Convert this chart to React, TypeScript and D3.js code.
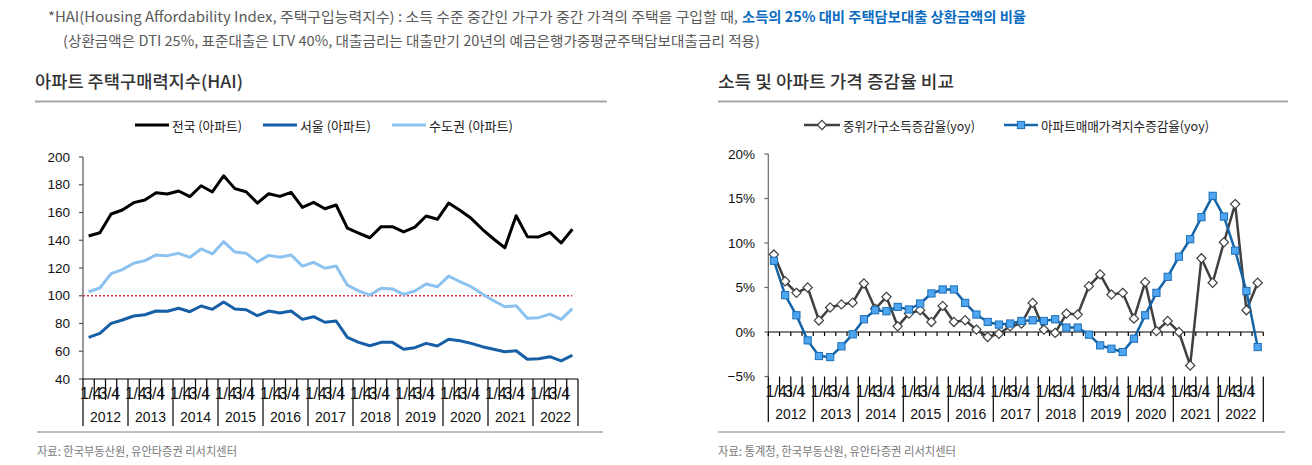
import React from "react";
import * as d3 from "d3";

// categories: quarters 2012 Q1 .. 2022 Q4
const years = [2012, 2013, 2014, 2015, 2016, 2017, 2018, 2019, 2020, 2021, 2022];
const quarterLabels = ["1/4", "", "3/4", ""];

// HAI (left chart)
const nationHai = [143.1, 145.4, 158.9, 161.8, 167.1, 169, 174.3, 173.3, 175.5, 171.4, 179.3, 174.8, 186.5, 177.2, 175, 166.8, 173.5, 171.6, 174.5, 163.7, 167.3, 162.7, 165.4, 148.8, 145.2, 141.8, 149.8, 149.8, 146, 149.5, 157.5, 155.1, 166.8, 161.6, 155.8, 147.9, 140.9, 134.6, 157.7, 142.6, 142.4, 145.7, 138, 147.9];
const seoulHai = [70, 72.9, 80.1, 82.5, 85.4, 86.3, 89, 88.8, 91, 88.5, 92.6, 90.2, 95.5, 90.5, 89.9, 85.6, 89, 87.6, 89, 83, 84.9, 80.9, 81.8, 70, 66.4, 64, 66.4, 66.4, 61.4, 62.6, 65.7, 63.8, 68.6, 67.6, 65.7, 63.3, 61.4, 59.7, 60.4, 54.2, 54.6, 56.1, 53, 57.1];
const capitalHai = [102.9, 105.6, 115.9, 118.8, 123.4, 125.3, 129.4, 128.9, 130.6, 127.7, 133.7, 130.1, 139, 131.5, 130.6, 124.3, 129.1, 127.7, 129.4, 121.4, 124.1, 119.8, 121.4, 107.6, 103.5, 100.5, 105.4, 104.9, 101, 103.4, 108.5, 106.5, 114.2, 110.1, 106.5, 101.3, 96.4, 92.1, 92.8, 83.7, 84.2, 86.8, 83, 90.7];
const haiTicks = [40, 60, 80, 100, 120, 140, 160, 180, 200];
const haiBase = 100;

// yoy growth (right chart), %
const incomeYoy = [8.7, 5.7, 4.4, 5.0, 1.3, 2.75, 3.1, 3.3, 5.45, 2.6, 3.95, 0.64, 2.07, 2.45, 1.13, 2.93, 1.13, 1.32, 0.27, -0.56, -0.2, 0.64, 0.95, 3.27, 0.27, -0.1, 2.07, 1.96, 5.15, 6.47, 4.2, 4.4, 1.5, 5.6, 0.1, 1.24, 0, -3.76, 8.28, 5.53, 10.08, 14.37, 2.45, 5.53];
const aptPriceYoy = [8.0, 4.14, 1.88, -0.94, -2.7, -2.82, -1.61, -0.26, 1.43, 2.45, 2.33, 2.82, 2.53, 3.2, 4.33, 4.78, 4.78, 3.27, 1.96, 1.13, 0.83, 0.95, 1.24, 1.32, 1.24, 1.43, 0.5, 0.5, -0.3, -1.5, -1.88, -2.25, -0.75, 1.88, 4.4, 6.2, 8.46, 10.42, 12.9, 15.3, 12.97, 9.14, 4.6, -1.69];
const yoyTicks = [-5, 0, 5, 10, 15, 20];

const quarters = years.flatMap((y) => [0, 1, 2, 3].map((q) => `${y}-${q}`));

const KR = "'Noto Sans CJK KR', 'Noto Sans', sans-serif";
const NUM = "'Liberation Sans', Arial, sans-serif";

function CategoryAxis({ x, top, tickEnd, sepEnd, qy, yy }) {
  const step = x.step();
  const [x0] = x.range();
  return (
    <g>
      {d3.range(quarters.length + 1).map((i) => {
        const xx = x0 + i * step;
        const isYear = i % 4 === 0;
        return (
          <line key={i} x1={xx} x2={xx} y1={top} y2={isYear ? sepEnd : tickEnd} stroke="#000" strokeWidth={1.2} />
        );
      })}
      {quarters.map((k, i) =>
        quarterLabels[i % 4] ? (
          <text key={k} x={x(k) + x.bandwidth() / 2 + (i % 4 === 0 ? 2 : -2)} y={qy} textAnchor="middle" fontFamily={NUM} fontSize={16} letterSpacing={-0.4} fill="#111">
            {quarterLabels[i % 4]}
          </text>
        ) : null
      )}
      {years.map((yr, i) => (
        <text key={yr} x={x0 + (i * 4 + 2) * step} y={yy} textAnchor="middle" fontFamily={NUM} fontSize={14} fill="#111">
          {yr}
        </text>
      ))}
    </g>
  );
}

function HaiChart() {
  const x = d3.scaleBand().domain(quarters).range([83, 578]).padding(0);
  const y = d3.scaleLinear().domain([40, 200]).range([379, 157]);
  const cx = (i) => x(quarters[i]) + x.bandwidth() / 2;
  const line = d3.line().x((d, i) => cx(i)).y((d) => y(d));
  const series = [
    { name: "전국 (아파트)", data: nationHai, color: "#000000" },
    { name: "서울 (아파트)", data: seoulHai, color: "#175fa6" },
    { name: "수도권 (아파트)", data: capitalHai, color: "#8cc2ef" },
  ];
  const legendX = [135, 263, 392];
  const legendW = [70, 71, 84];
  return (
    <g>
      <text x={35} y={80} fontFamily={KR} fontSize={17} fontWeight={500} fill="#333" dominantBaseline="central" textLength={208} lengthAdjust="spacingAndGlyphs">
        아파트 주택구매력지수(HAI)
      </text>
      <line x1={35} x2={607} y1={101.5} y2={101.5} stroke="#a6a6a6" strokeWidth={2} />
      {series.map((s, i) => (
        <g key={s.name}>
          <line x1={legendX[i]} x2={legendX[i] + 34} y1={125} y2={125} stroke={s.color} strokeWidth={3} />
          <text x={legendX[i] + 37} y={125} fontFamily={KR} fontSize={13} fill="#222" dominantBaseline="central" textLength={legendW[i]} lengthAdjust="spacingAndGlyphs">
            {s.name}
          </text>
        </g>
      ))}
      {/* y axis */}
      <line x1={83} x2={83} y1={y(200)} y2={y(40)} stroke="#555" strokeWidth={1.2} />
      {haiTicks.map((t) => (
        <g key={t}>
          <line x1={79} x2={83} y1={y(t)} y2={y(t)} stroke="#555" strokeWidth={1.2} />
          <text x={70} y={y(t)} textAnchor="end" dominantBaseline="central" fontFamily={NUM} fontSize={13.5} fill="#111">
            {t}
          </text>
        </g>
      ))}
      <line x1={83} x2={578} y1={y(40)} y2={y(40)} stroke="#000" strokeWidth={1.2} />
      <CategoryAxis x={x} top={y(40)} tickEnd={400} sepEnd={426} qy={399} yy={422} />
      <line x1={83} x2={cx(quarters.length - 1)} y1={y(haiBase)} y2={y(haiBase)} stroke="#e0303a" strokeWidth={1.4} strokeDasharray="2,2" />
      {series
        .slice()
        .reverse()
        .map((s) => (
          <path key={s.name} d={line(s.data)} fill="none" stroke={s.color} strokeWidth={3} strokeLinejoin="round" />
        ))}
      <line x1={37} x2={603} y1={432} y2={432} stroke="#bfbfbf" strokeWidth={2} />
      <text x={37} y={450} fontFamily={KR} fontSize={12} fill="#7a7a7a" dominantBaseline="central" textLength={200} lengthAdjust="spacingAndGlyphs">
        자료: 한국부동산원, 유안타증권 리서치센터
      </text>
    </g>
  );
}

function Diamond({ x, y }) {
  const r = 4.6;
  return <path d={`M${x},${y - r}L${x + r},${y}L${x},${y + r}L${x - r},${y}Z`} fill="#fff" stroke="#404040" strokeWidth={1.2} />;
}

function Square({ x, y }) {
  const r = 3.6;
  return <rect x={x - r} y={y - r} width={r * 2} height={r * 2} fill="#4ea6f2" stroke="#1d6db5" strokeWidth={1} />;
}

function YoyChart() {
  const x = d3.scaleBand().domain(quarters).range([768.3, 1263.3]).padding(0);
  const y = d3.scaleLinear().domain([-5, 20]).range([376.5, 154]);
  const cx = (i) => x(quarters[i]) + x.bandwidth() / 2;
  const line = d3.line().x((d, i) => cx(i)).y((d) => y(d));
  const step = x.step();
  return (
    <g>
      <text x={718} y={80} fontFamily={KR} fontSize={17} fontWeight={500} fill="#333" dominantBaseline="central" textLength={236} lengthAdjust="spacingAndGlyphs">
        소득 및 아파트 가격 증감율 비교
      </text>
      <line x1={718} x2={1288} y1={101.5} y2={101.5} stroke="#a6a6a6" strokeWidth={2} />
      {/* legend */}
      <line x1={804} x2={840} y1={125} y2={125} stroke="#404040" strokeWidth={2.5} />
      <Diamond x={822} y={125} />
      <text x={843} y={125} fontFamily={KR} fontSize={13} fill="#222" dominantBaseline="central" textLength={132} lengthAdjust="spacingAndGlyphs">
        중위가구소득증감율(yoy)
      </text>
      <line x1={1004} x2={1038} y1={125} y2={125} stroke="#1464a8" strokeWidth={2.5} />
      <Square x={1021} y={125} />
      <text x={1041} y={125} fontFamily={KR} fontSize={13} fill="#222" dominantBaseline="central" textLength={168} lengthAdjust="spacingAndGlyphs">
        아파트매매가격지수증감율(yoy)
      </text>
      {/* y axis */}
      <line x1={768.3} x2={768.3} y1={y(20)} y2={y(-5)} stroke="#666" strokeWidth={1.2} />
      {yoyTicks.map((t) => (
        <g key={t}>
          <line x1={764.5} x2={768.3} y1={y(t)} y2={y(t)} stroke="#666" strokeWidth={1.2} />
          <text x={755} y={y(t)} textAnchor="end" dominantBaseline="central" fontFamily={NUM} fontSize={13.5} fill="#111">
            {t < 0 ? `\u2212${-t}%` : `${t}%`}
          </text>
        </g>
      ))}
      {/* zero line */}
      <line x1={768.3} x2={1263.3} y1={y(0)} y2={y(0)} stroke="#000" strokeWidth={1.2} />
      {d3.range(quarters.length + 1).map((i) => (
        <line key={i} x1={768.3 + i * step} x2={768.3 + i * step} y1={y(0)} y2={y(0) + 4} stroke="#000" strokeWidth={1.2} />
      ))}
      <CategoryAxis x={x} top={y(-5)} tickEnd={397} sepEnd={422} qy={397} yy={419} />
      <path d={line(incomeYoy)} fill="none" stroke="#404040" strokeWidth={2.5} strokeLinejoin="round" />
      <path d={line(aptPriceYoy)} fill="none" stroke="#1464a8" strokeWidth={2.5} strokeLinejoin="round" />
      {incomeYoy.map((v, i) => (
        <Diamond key={i} x={cx(i)} y={y(v)} />
      ))}
      {aptPriceYoy.map((v, i) => (
        <Square key={i} x={cx(i)} y={y(v)} />
      ))}
      <line x1={718} x2={1285} y1={432} y2={432} stroke="#bfbfbf" strokeWidth={2} />
      <text x={718} y={450} fontFamily={KR} fontSize={12} fill="#7a7a7a" dominantBaseline="central" textLength={238} lengthAdjust="spacingAndGlyphs">
        자료: 통계청, 한국부동산원, 유안타증권 리서치센터
      </text>
    </g>
  );
}

export default function App() {
  return (
    <svg width={1312} height={465} style={{ position: "absolute", left: 0, top: 0, background: "#fff" }}>
      <text x={48} y={16} fontFamily={KR} fontSize={14} fill="#595959" dominantBaseline="central" textLength={690} lengthAdjust="spacingAndGlyphs">
        *HAI(Housing Affordability Index, 주택구입능력지수) : 소득 수준 중간인 가구가  중간 가격의 주택을 구입할 때,
      </text>
      <text x={742} y={16} fontFamily={KR} fontSize={14} fontWeight={700} fill="#0b6cbf" dominantBaseline="central" textLength={284} lengthAdjust="spacingAndGlyphs">
        소득의 25% 대비 주택담보대출 상환금액의 비율
      </text>
      <text x={63} y={40} fontFamily={KR} fontSize={14} fill="#595959" dominantBaseline="central" textLength={697} lengthAdjust="spacingAndGlyphs">
        (상환금액은 DTI 25%, 표준대출은 LTV 40%, 대출금리는 대출만기 20년의 예금은행가중평균주택담보대출금리 적용)
      </text>
      <HaiChart />
      <YoyChart />
    </svg>
  );
}
